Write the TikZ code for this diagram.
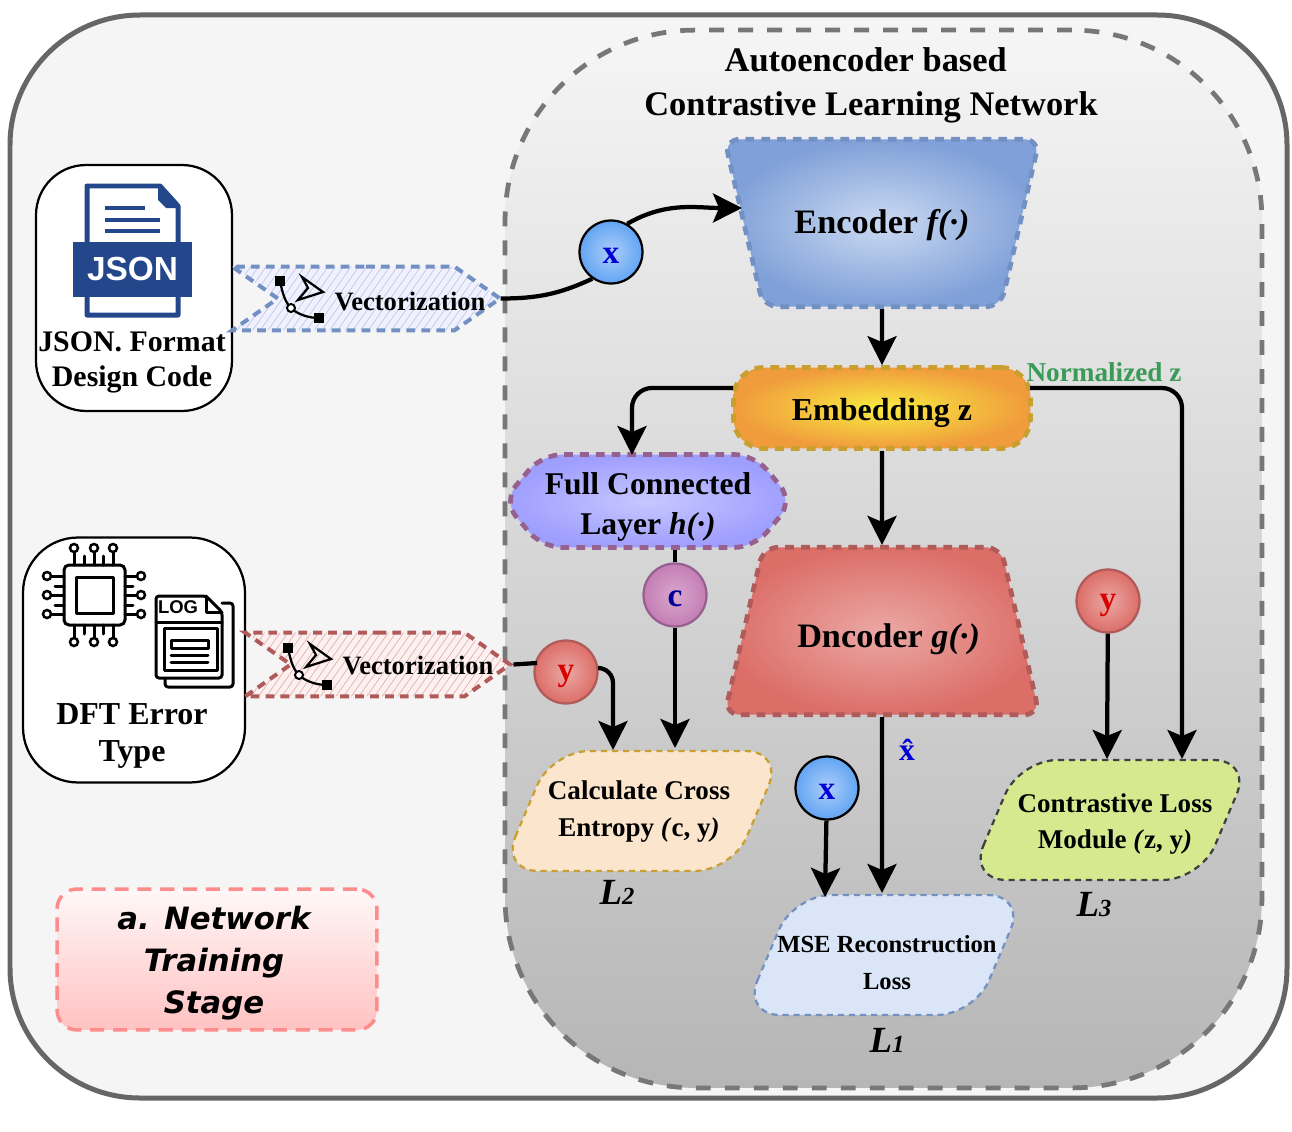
\documentclass[tikz,border=0pt]{standalone}
\usepackage{fontspec}
\setmainfont{Liberation Serif}
\newfontfamily\iconfont{Liberation Sans}
\newfontfamily\stagefont{DejaVu Sans}
\usepackage{tikz}
\usetikzlibrary{arrows.meta,positioning,calc,patterns.meta,shapes.geometric,shapes.symbols}
\definecolor{outerline}{HTML}{666666}
\definecolor{outerfill}{HTML}{F5F5F5}
\definecolor{panelline}{HTML}{777777}
\definecolor{panelbot}{HTML}{B6B6B6}
\definecolor{jsonblue}{HTML}{23478A}
\definecolor{encline}{HTML}{7390C2}
\definecolor{encin}{HTML}{CBDAF2}
\definecolor{encout}{HTML}{7FA0D8}
\definecolor{decline}{HTML}{B05A5A}
\definecolor{decin}{HTML}{EBA8A4}
\definecolor{decout}{HTML}{DC6E68}
\definecolor{embline}{HTML}{C9A030}
\definecolor{embin}{HTML}{F9EC42}
\definecolor{embout}{HTML}{F09C3C}
\definecolor{fcline}{HTML}{96608F}
\definecolor{crossfill}{HTML}{FBE5CD}
\definecolor{contrastfill}{HTML}{D6E98F}
\definecolor{msefill}{HTML}{DAE6F8}
\definecolor{normgreen}{HTML}{3A9A58}
\definecolor{letterblue}{RGB}{0,0,215}
\definecolor{tokxin}{HTML}{ACCEFA}
\definecolor{tokxout}{HTML}{62A4F2}
\definecolor{tokcin}{HTML}{D8A8CC}
\definecolor{tokcout}{HTML}{C47DB4}
\tikzset{
  heavy/.style={font=\fontsize{19.6}{25}\selectfont\bfseries, align=center},
  small/.style={font=\fontsize{15.1}{21}\selectfont\bfseries, align=center},
  iobox/.style={draw=black, fill=white, line width=0.045cm, rounded corners=1cm},
  vecsig/.style={signal, signal to=east, signal from=west, signal pointer angle=70,
                 dash pattern=on 5pt off 3.5pt, line width=0.08cm, inner sep=0pt,
                 minimum height=1.28cm},
  flow/.style={-{Stealth[length=0.58cm,width=0.58cm,inset=0.12cm]}, line width=0.085cm, black},
  plain/.style={line width=0.085cm, black},
  blockline/.style={dash pattern=on 5pt off 4pt, line width=0.095cm},
  coder/.style={trapezium, trapezium stretches body=true, trapezium angle=77, rounded corners=0.3cm,
                blockline, inner xsep=0pt, minimum width=6.3cm},
  lossbox/.style={trapezium, trapezium stretches body=true, trapezium left angle=67, trapezium right angle=113,
                  rounded corners=0.75cm, dash pattern=on 3.5pt off 2.8pt, line width=0.045cm,
                  inner xsep=0pt, inner ysep=1.2cm, minimum width=5.65cm},
  losstext/.style={align=center, font=\fontsize{15.4}{21}\selectfont\bfseries},
  token/.style={circle, minimum size=1.26cm, inner sep=0pt, line width=0.045cm, text height=14pt, text depth=4pt,
                font=\fontsize{19}{20}\selectfont\bfseries},
  tokx/.style={token, draw=black, inner color=tokxin, outer color=tokxout, text=letterblue, text height=17.5pt},
  toky/.style={token, draw=decline, inner color=decin, outer color=decout, text=red!85!black},
  tokc/.style={token, draw=fcline, inner color=tokcin, outer color=tokcout, text=blue!60!black, text height=17.5pt},
  lossname/.style={font=\fontsize{21}{22}\selectfont\bfseries\itshape},
  iconline/.style={line width=0.06cm, black, line cap=round, line join=round},
  pics/curveicon/.style={code={
    \draw[line width=0.045cm] (0,0) .. controls (3,15) and (6,22) .. (11,27) .. controls (17,33) and (28,37) .. (39,37);
    \fill (-5,-5) rectangle (5,5);
    \fill (34,32) rectangle (44,42);
    \draw[line width=0.04cm, fill=white] (11,27) circle (4);
    \draw[line width=0.045cm, line join=miter] (22,-4) -- (43,11) -- (18,19) -- (28,7) -- cycle;
  }},
}
\newcommand{\lossmark}[1]{L{\fontsize{14}{15}\selectfont #1}}
\begin{document}
\begin{tikzpicture}[x=0.02cm, y=-0.02cm]
  \useasboundingbox (0,0) rectangle (1292,1132);
  % frames
  \draw[outerline, fill=outerfill, line width=0.1cm, rounded corners=2.6cm] (10,15) rectangle (1287,1098);
  \node[draw=panelline, top color=outerfill, bottom color=panelbot, line width=0.095cm,
        dash pattern=on 8.5pt off 8pt, rounded corners=3.8cm, inner sep=0pt,
        minimum width=15.14cm, minimum height=21.16cm] (panel) at (883.5,559) {};
  \node[heavy] (title) at (871,85) {\hspace*{-6pt}Autoencoder based\\Contrastive Learning Network};
  % left boxes
  \node[iobox, minimum width=3.92cm, minimum height=4.92cm] (jsonbox) at (134,288) {};
  \node[iobox, rounded corners=1.1cm, minimum width=4.44cm, minimum height=4.9cm] (dftbox) at (134,660) {};
  % json icon
  \draw[jsonblue, line width=0.1cm, line join=round] (87,186) -- (160,186) -- (178,206) -- (178,315) -- (87,315) -- cycle;
  \fill[jsonblue] (158,186) -- (180,208) -- (166,208) -- (158,200) -- cycle;
  \foreach \yy/\xx in {208/145, 220/160, 231/160} {\fill[jsonblue] (105,\yy-2) rectangle (\xx,\yy+2);}
  \node[fill=jsonblue, text=white, minimum width=2.38cm, minimum height=1.1cm, inner sep=0pt,
        font=\iconfont\fontsize{19}{20}\selectfont\bfseries] (jsonbar) at (132.5,269.5) {JSON};
  \node[font=\fontsize{17}{20}\selectfont\bfseries, align=center] (jsontext) at (132,362) {JSON. Format\\Design Code};
  % chip icon
  \draw[iconline, rounded corners=0.1cm] (64,565) rectangle (125,625);
  \draw[iconline] (76,577) rectangle (113,613);
  \foreach \p in {74,94,113} {
    \draw[iconline] (\p,552) -- (\p,565);
    \draw[iconline] (\p,625) -- (\p,638);
    \draw[line width=0.05cm, fill=white] (\p,548) circle (4);
    \draw[line width=0.05cm, fill=white] (\p,642) circle (4);
  }
  \foreach \p in {84,103} {
    \draw[iconline] (\p,556) -- (\p,565);
    \draw[iconline] (\p,625) -- (\p,634);
  }
  \foreach \p in {576,595,614} {
    \draw[iconline] (51,\p) -- (64,\p);
    \draw[iconline] (125,\p) -- (137,\p);
    \draw[line width=0.05cm, fill=white] (47,\p) circle (4);
    \draw[line width=0.05cm, fill=white] (141,\p) circle (4);
  }
  \foreach \p in {586,605} {
    \draw[iconline] (55,\p) -- (64,\p);
    \draw[iconline] (125,\p) -- (133,\p);
  }
  % log icon
  \draw[iconline, rounded corners=0.06cm] (222,603) -- (233,603) -- (233,687) -- (165,687) -- (165,678);
  \draw[iconline, rounded corners=0.06cm] (156,678) -- (156,596) -- (206,596) -- (222,612) -- (222,678) -- cycle;
  \draw[iconline] (206,596) -- (206,612) -- (222,612);
  \draw[iconline] (156,622) -- (222,622);
  \draw[iconline] (164,628) rectangle (217,670);
  \draw[iconline] (171,640) rectangle (208,648);
  \foreach \yy in {655,662} {\draw[iconline] (171,\yy) -- (208,\yy);}
  \node[inner sep=0pt, font=\iconfont\fontsize{10.5}{11}\selectfont\bfseries] (logword) at (178,607.5) {LOG};
  \node[font=\fontsize{18.2}{21}\selectfont\bfseries, align=center] (dfttext) at (132,736) {DFT Error\\Type};
  % vectorization
  \node[vecsig, draw=encline, preaction={fill=blue!6!white},
        pattern={Lines[angle=55,distance=3.6pt,line width=0.35pt]}, pattern color=encline!50,
        minimum width=5.36cm] (vecone) at (366,298.5) {};
  \pic at (280,281) {curveicon};
  \node[small] (vectextone) at (410,301) {Vectorization};
  \node[vecsig, draw=decline, preaction={fill=red!6!white},
        pattern={Lines[angle=55,distance=3.6pt,line width=0.35pt]}, pattern color=decline!50,
        minimum width=5.3cm] (vectwo) at (377.5,664.5) {};
  \pic at (288,648) {curveicon};
  \node[small] (vectexttwo) at (418,665) {Vectorization};
  % stage label
  \node[draw=red!45!white, top color=red!3!white, bottom color=red!24!white, line width=0.07cm,
        dash pattern=on 8pt off 5pt, rounded corners=0.4cm, minimum width=6.4cm, minimum height=2.82cm,
        inner sep=0pt] (stagebox) at (217,959.5) {};
  \node[align=center, font=\stagefont\fontsize{17.5}{24}\selectfont\bfseries\itshape] (stagetext) at (214,963)
    {a. Network\\Training\\Stage};
  % blocks
  \node[coder, shape border rotate=180, draw=encline, inner color=encin, outer color=encout,
        inner ysep=1.33cm, text height=15.6pt, text depth=4pt,
        font=\fontsize{19.5}{20}\selectfont\bfseries] (encoder) at (882,223) {Encoder \textit{f(·)}};
  \node[draw=embline, blockline, rounded corners=0.6cm, inner color=embin, outer color=embout,
        minimum width=5.94cm, minimum height=1.62cm, inner sep=0pt, text height=18pt, text depth=3.6pt,
        font=\fontsize{18.2}{20}\selectfont\bfseries] (embed) at (882,408) {Embedding z};
  \node[signal, signal to=east and west, signal pointer angle=100, draw=fcline, blockline, rounded corners=0.4cm,
        inner color=blue!22!white, outer color=blue!38!white, inner sep=0pt,
        minimum width=5.8cm, minimum height=1.86cm, align=center,
        font=\fontsize{18}{23}\selectfont\bfseries] (fclayer) at (648,501)
        {\rule{0pt}{19pt}Full Connected\\Layer \textit{h(·)}};
  \node[coder, draw=decline, inner color=decin, outer color=decout, inner ysep=1.21cm, text height=22.4pt, text depth=4pt,
        font=\fontsize{19.5}{20}\selectfont\bfseries] (decoder) at (882,631) {\hspace*{7.5pt}Dncoder \textit{g(·)}};
  % loss blocks
  \node[lossbox, draw=embline, fill=crossfill] (crossloss) at (642,811) {};
  \node[losstext] (crosstext) at (639,811.5) {Calculate Cross\\Entropy \textit{(}c, y\textit{)}};
  \node[lossbox, draw=black!75, fill=contrastfill] (contrastloss) at (1110,820) {};
  \node[losstext] (contrasttext) at (1115,824) {Contrastive Loss\\Module \textit{(}z, y\textit{)}};
  \node[lossbox, draw=encline, fill=msefill] (mseloss) at (884,955) {};
  \node[losstext, font=\fontsize{14}{21}\selectfont\bfseries] (msetext) at (887,963) {MSE Reconstruction\\Loss};
  \node[lossname] (ltwo) at (617,892) {\lossmark{2}};
  \node[lossname] (lthree) at (1094,905) {\lossmark{3}};
  \node[lossname] (lone) at (887,1040) {\lossmark{1}};
  % tokens
  \node[tokx] (xin) at (611,252) {x};
  \node[tokc] (cout) at (675,595) {c};
  \node[toky] (ylab) at (566,672) {y};
  \node[toky] (yref) at (1108,601) {y};
  \node[tokx] (xref) at (827,788) {x};
  \node[font=\fontsize{18}{20}\selectfont\bfseries, text=letterblue, inner sep=0pt] (xhat) at (907,750) {\^x};
  \node[font=\fontsize{15.5}{18}\selectfont\bfseries, text=normgreen, inner sep=0pt] (normz) at (1104,372) {Normalized z};
  % connectors
  \coordinate (embleft) at (733,388);
  \coordinate (embright) at (1030,388);
  \coordinate (fctop) at (632,455);
  \coordinate (contop) at (1182,759);
  \coordinate (crosstop) at (613,750);
  \coordinate (crossmid) at (675,748);
  \coordinate (contopy) at (1107,759);
  \coordinate (msex) at (825,897);
  \coordinate (msedec) at (882,893);
  \coordinate (xtip) at (742,208);
  \coordinate (ybend) at (598,668);
  \coordinate (yleft) at (537,663);
  \draw[plain] (vecone.east) to[out=0, in=205] (xin.235);
  \draw[flow] (xin.60) to[out=30, in=180] (xtip);
  \draw[flow] (encoder.south) -- (embed.north);
  \draw[flow, rounded corners=0.4cm] (embleft) -| (fctop);
  \draw[flow] (embed.south) -- (decoder.north);
  \draw[flow, rounded corners=0.4cm] (embright) -| (contop);
  \draw[plain] (cout) -- (cout |- fclayer.south);
  \draw[flow] (cout) -- (crossmid);
  \draw[plain] (vectwo.east) -- (yleft);
  \draw[flow, rounded corners=0.3cm] (ybend) -| (crosstop);
  \draw[flow] (yref) -- (contopy);
  \draw[flow] (decoder.south) -- (msedec);
  \draw[flow] (xref) -- (msex);
\end{tikzpicture}
\end{document}
